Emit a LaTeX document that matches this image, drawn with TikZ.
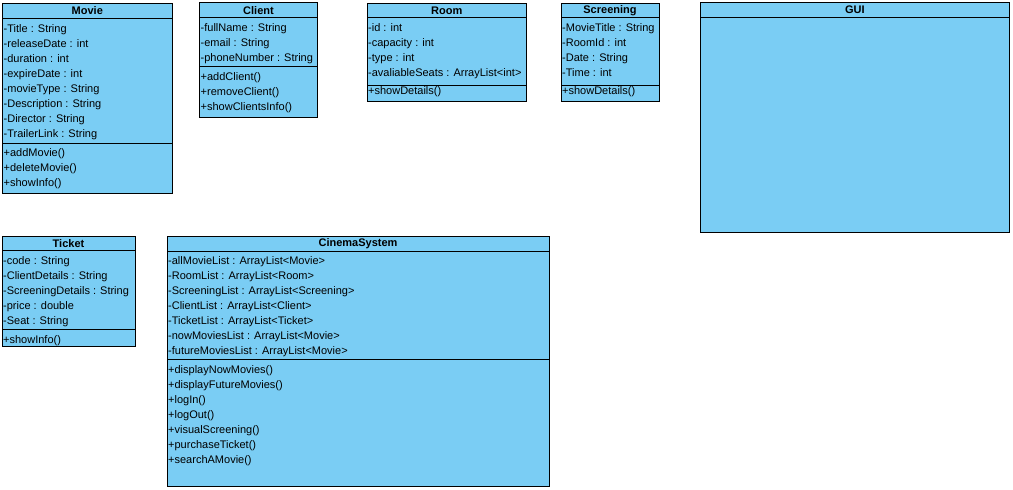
\documentclass[tikz,border=0pt]{standalone}
\usepackage{fontspec}
\setmainfont{Liberation Sans}
\usepackage{tikz}

\definecolor{umlblue}{RGB}{122,205,244}

\begin{document}
\begin{tikzpicture}[x=1pt,y=-1pt,
	box/.style={draw=black, fill=umlblue, line width=1pt},
	sep/.style={draw=black, line width=1pt},
	title/.style={font=\bfseries\fontsize{11}{13}\selectfont, inner sep=0pt},
	member/.style={font=\fontsize{11}{13}\selectfont, anchor=base west, inner sep=0pt}]
	\useasboundingbox (0,0) rectangle (1013,490);

	% Movie
	\draw[box] (2.5,3.3) rectangle (172,193.5);
	\draw[sep] (2.5,18) -- (172,18) (2.5,143) -- (172,143);
	\node[title] (movie) at (87.3,11) {Movie};
	\foreach \txt [count=\i from 0] in {-Title : String,-releaseDate : int,-duration : int,-expireDate : int,-movieType : String,-Description : String,-Director : String,-TrailerLink : String}
		\node[member] (movie-a\i) at (3.5,32+15*\i) {\txt};
	\foreach \txt [count=\i from 0] in {+addMovie(),+deleteMovie(),+showInfo()}
		\node[member] (movie-m\i) at (3.5,156+15*\i) {\txt};

	% Client
	\draw[box] (199.5,2.7) rectangle (317.5,117.3);
	\draw[sep] (199.5,17.7) -- (317.5,17.7) (199.5,66) -- (317.5,66);
	\node[title] (client) at (258.5,10.3) {Client};
	\foreach \txt [count=\i from 0] in {-fullName : String,-email : String,-phoneNumber : String}
		\node[member] (client-a\i) at (200.5,31+15*\i) {\txt};
	\foreach \txt [count=\i from 0] in {+addClient(),+removeClient(),+showClientsInfo()}
		\node[member] (client-m\i) at (200.5,80.3+15*\i) {\txt};

	% Room
	\draw[box] (367,3) rectangle (526.5,101);
	\draw[sep] (367,17) -- (526.5,17) (367,85.7) -- (526.5,85.7);
	\node[title] (room) at (446.7,10.3) {Room};
	\foreach \txt [count=\i from 0] in {-id : int,-capacity : int,-type : int,-avaliableSeats : ArrayList<int>}
		\node[member] (room-a\i) at (368,31+15*\i) {\txt};
	\node[member] (room-m0) at (368,94.3) {+showDetails()};

	% Screening
	\draw[box] (561,3) rectangle (659,101);
	\draw[sep] (561,17) -- (659,17) (561,85.7) -- (659,85.7);
	\node[title] (screening) at (610,10.3) {Screening};
	\foreach \txt [count=\i from 0] in {-MovieTitle : String,-RoomId : int,-Date : String,-Time : int}
		\node[member] (screening-a\i) at (562,31+15*\i) {\txt};
	\node[member] (screening-m0) at (562,94.3) {+showDetails()};

	% GUI
	\draw[box] (700.7,2.7) rectangle (1009,232);
	\draw[sep] (700.7,17.3) -- (1009,17.3);
	\node[title] (gui) at (854.8,10) {GUI};

	% Ticket
	\draw[box] (2,236) rectangle (135,346.7);
	\draw[sep] (2,250.7) -- (135,250.7) (2,329) -- (135,329);
	\node[title] (ticket) at (68.5,243.3) {Ticket};
	\foreach \txt [count=\i from 0] in {-code : String,-ClientDetails : String,-ScreeningDetails : String,-price : double,-Seat : String}
		\node[member] (ticket-a\i) at (3,264.7+15*\i) {\txt};
	\node[member] (ticket-m0) at (3,343.3) {+showInfo()};

	% CinemaSystem
	\draw[box] (167,236) rectangle (549,486);
	\draw[sep] (167,251) -- (549,251) (167,359) -- (549,359);
	\node[title] (cinema) at (358,243.5) {CinemaSystem};
	\foreach \txt [count=\i from 0] in {-allMovieList : ArrayList<Movie>,-RoomList : ArrayList<Room>,-ScreeningList : ArrayList<Screening>,-ClientList : ArrayList<Client>,-TicketList : ArrayList<Ticket>,-nowMoviesList : ArrayList<Movie>,-futureMoviesList : ArrayList<Movie>}
		\node[member] (cinema-a\i) at (168,264+15*\i) {\txt};
	\foreach \txt [count=\i from 0] in {+displayNowMovies(),+displayFutureMovies(),+logIn(),+logOut(),+visualScreening(),+purchaseTicket(),+searchAMovie()}
		\node[member] (cinema-m\i) at (168,373+15*\i) {\txt};
\end{tikzpicture}
\end{document}
